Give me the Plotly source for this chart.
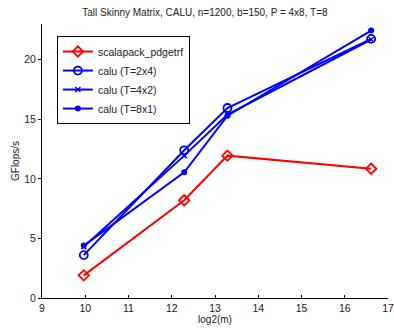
import plotly.graph_objects as go

x = [9.966, 12.288, 13.288, 16.61]
scalapack = [1.9, 8.2, 11.95, 10.85]
calu_2x4 = [3.6, 12.4, 15.95, 21.75]
calu_4x2 = [4.3, 11.95, 15.4, 21.7]
calu_8x1 = [4.4, 10.55, 15.3, 22.45]

series = [
    ("scalapack_pdgetrf", scalapack, "red", dict(symbol="diamond-open", size=8, line=dict(width=1.8))),
    ("calu (T=2x4)", calu_2x4, "blue", dict(symbol="circle-open", size=8, line=dict(width=1.8))),
    ("calu (T=4x2)", calu_4x2, "blue", dict(symbol="x-thin", size=5, line=dict(width=1.5, color="blue"))),
    ("calu (T=8x1)", calu_8x1, "blue", dict(symbol="circle", size=6)),
]

fig = go.Figure()
for name, y, c, m in series:
    m = dict(m)
    m["color"] = c
    if "line" in m:
        m["line"] = dict(m["line"], color=c)
    fig.add_trace(go.Scatter(x=x, y=y, name=name, mode="lines+markers",
                             line=dict(color=c, width=2), marker=m))

fig.update_layout(
    width=394, height=329,
    margin=dict(l=42, r=6, t=24, b=31, autoexpand=False),
    paper_bgcolor="white", plot_bgcolor="white",
    font=dict(family="Liberation Sans, Arial, sans-serif", size=10, color="#222"),
    title=dict(text="Tall Skinny Matrix, CALU, n=1200, b=150, P = 4x8, T=8",
               x=0.52, xanchor="center", y=0.972, yanchor="top", font=dict(size=10)),
    showlegend=True,
    legend=dict(x=0.043, y=0.956, xanchor="left", yanchor="top",
                bgcolor="white", bordercolor="black", borderwidth=1,
                font=dict(size=10.5), itemwidth=30, tracegroupgap=0),
    xaxis=dict(range=[9, 17], dtick=1, showgrid=False, zeroline=False, automargin=False,
               showline=True, linecolor="black", linewidth=1,
               ticks="inside", ticklen=3, tickcolor="black",
               title=dict(text="log2(m)", standoff=0, font=dict(size=10)),
               tickfont=dict(size=10.5)),
    yaxis=dict(range=[0, 23], tickvals=[0, 5, 10, 15, 20], showgrid=False, zeroline=False,
               automargin=False,
               showline=True, linecolor="black", linewidth=1,
               ticks="outside", ticklen=3, tickcolor="black",
               title=dict(text="GFlops/s", standoff=2, font=dict(size=10)),
               tickfont=dict(size=10.5)),
)

fig.write_html("out.html", config={"displayModeBar": False},
               post_script="document.body.style.margin='0';document.body.style.overflow='hidden';")
